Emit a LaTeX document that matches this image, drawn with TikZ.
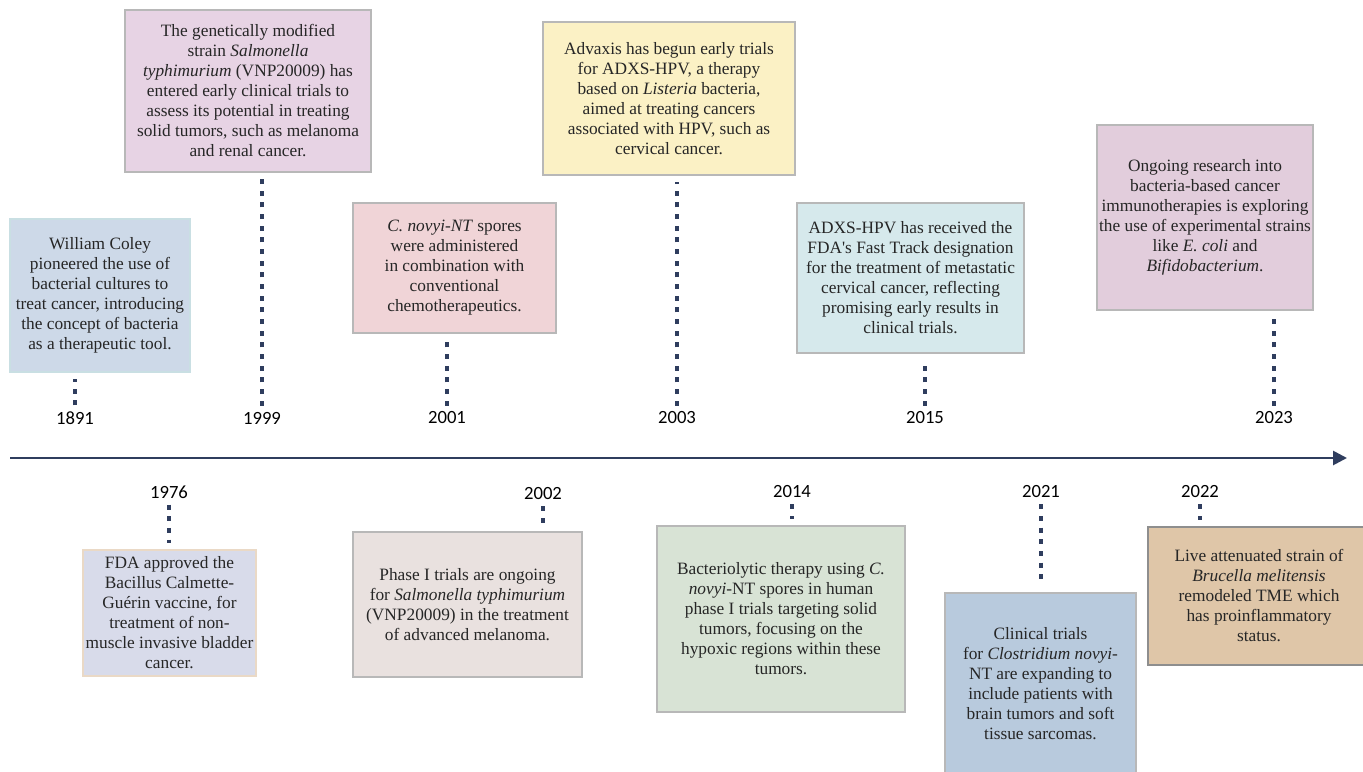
\documentclass[tikz,border=0pt]{standalone}
\usepackage{fontspec}
\setmainfont{Liberation Serif}
\newfontfamily\yearfont{Carlito}
\usetikzlibrary{arrows.meta, positioning, calc}
\definecolor{mNavy}{HTML}{2F3D5E}
\definecolor{mText}{HTML}{262626}
\definecolor{mGrayLine}{HTML}{B8B8B8}
\definecolor{mDarkLine}{HTML}{8E8E8E}
\definecolor{mTealLine}{HTML}{C9DFE3}
\definecolor{mPeachLine}{HTML}{EAD9C6}
\definecolor{mBlue}{HTML}{CDD9E8}
\definecolor{mLilac}{HTML}{E7D3E4}
\definecolor{mPink}{HTML}{F0D4D7}
\definecolor{mYellow}{HTML}{FBF1C5}
\definecolor{mTeal}{HTML}{D6E9EC}
\definecolor{mMauve}{HTML}{E2CDDC}
\definecolor{mPeri}{HTML}{D8DBEA}
\definecolor{mStone}{HTML}{E9E1DF}
\definecolor{mSage}{HTML}{D8E3D5}
\definecolor{mSteel}{HTML}{B8CADD}
\definecolor{mTan}{HTML}{DFC6A8}

\begin{document}
\begin{tikzpicture}[x=0.75pt, y=-0.75pt,
    event/.style={draw=mGrayLine, line width=1.5pt, align=center, inner sep=0pt,
      text=mText, font=\fontsize{13}{15}\selectfont},
    year/.style={inner sep=0pt, font=\yearfont\fontsize{14}{16}\selectfont},
    tick/.style={mNavy, line width=2.4pt, dash pattern=on 3.75pt off 5pt,
      shorten <=4.5pt, shorten >=4.5pt},
    timeline/.style={mNavy, line width=2pt, -{Triangle[length=10.5pt, width=10.5pt]}}]
  \useasboundingbox (0,0) rectangle (1363,771);

  % main axis
  \coordinate (tstart) at (10,458);
  \coordinate (tend) at (1347,458);
  \draw[timeline] (tstart) -- (tend);

  % events above the axis
  \node[event, fill=mBlue, draw=mTealLine, minimum width=135pt, minimum height=114.75pt] (b1891) at (100,295.5)
    {William Coley\\pioneered the use of\\bacterial cultures to\\treat cancer, introducing\\the concept of bacteria\\as a therapeutic tool.};
  \node[event, fill=mLilac, minimum width=184.5pt, minimum height=121.5pt] (b1999) at (248,91)
    {The genetically modified\\strain \textit{Salmonella}\\\textit{typhimurium} (VNP20009) has\\entered early clinical trials to\\assess its potential in treating\\solid tumors, such as melanoma\\and renal cancer.};
  \node[event, fill=mPink, minimum width=152.25pt, minimum height=97.5pt] (b2001) at (454.5,268)
    {\textit{C. novyi-NT} spores\\were administered\\in combination with\\conventional\\chemotherapeutics.};
  \node[event, fill=mYellow, minimum width=189pt, minimum height=114.75pt] (b2003) at (669,98.5)
    {Advaxis has begun early trials\\for ADXS-HPV, a therapy\\based on \textit{Listeria} bacteria,\\aimed at treating cancers\\associated with HPV, such as\\cervical cancer.};
  \node[event, fill=mTeal, minimum width=170.25pt, minimum height=112.5pt] (b2015) at (910.5,278)
    {ADXS-HPV has received the\\FDA\textquotesingle s Fast Track designation\\for the treatment of metastatic\\cervical cancer, reflecting\\promising early results in\\clinical trials.};
  \node[event, fill=mMauve, minimum width=162pt, minimum height=138.75pt] (b2023) at (1205,217.5)
    {Ongoing research into\\bacteria-based cancer\\immunotherapies is exploring\\the use of experimental strains\\like \textit{E. coli} and\\\textit{Bifidobacterium}.};

  % events below the axis
  \node[event, fill=mPeri, draw=mPeachLine, minimum width=129.75pt, minimum height=94.5pt] (b1976) at (169.5,613)
    {FDA approved the\\Bacillus Calmette-\\Guérin vaccine, for\\treatment of non-\\muscle invasive bladder\\cancer.};
  \node[event, fill=mStone, minimum width=171.75pt, minimum height=108.75pt] (b2002) at (467.5,604.5)
    {Phase I trials are ongoing\\for \textit{Salmonella typhimurium}\\(VNP20009) in the treatment\\of advanced melanoma.};
  \node[event, fill=mSage, minimum width=186pt, minimum height=139.5pt] (b2014) at (781,619)
    {Bacteriolytic therapy using \textit{C.}\\\textit{novyi}-NT spores in human\\phase I trials targeting solid\\tumors, focusing on the\\hypoxic regions within these\\tumors.};
  \node[event, fill=mSteel, minimum width=143.25pt, minimum height=137pt] (b2021) at (1040.5,684)
    {Clinical trials\\for \textit{Clostridium novyi}-\\NT are expanding to\\include patients with\\brain tumors and soft\\tissue sarcomas.};
  \node[event, fill=mTan, draw=mDarkLine, minimum width=166.5pt, minimum height=103.5pt] (b2022) at (1259,596)
    {Live attenuated strain of\\\textit{Brucella melitensis}\\remodeled TME which\\has proinflammatory\\status.};

  % years and their ticks
  \foreach \yr/\x in {1891/75, 1999/262, 2001/447, 2003/677, 2015/925, 2023/1274} {
    \node[year] (y\yr) at (\x,418) {\yr};
    \draw[tick] (y\yr.north) -- (y\yr.north |- b\yr.south);
  }
  \foreach \yr/\x/\y in {1976/169/492, 2002/543/494, 2014/792/492, 2021/1041/492, 2022/1200/492} {
    \node[year] (y\yr) at (\x,\y) {\yr};
    \draw[tick] (y\yr.south) -- (y\yr.south |- b\yr.north);
  }
\end{tikzpicture}
\end{document}
